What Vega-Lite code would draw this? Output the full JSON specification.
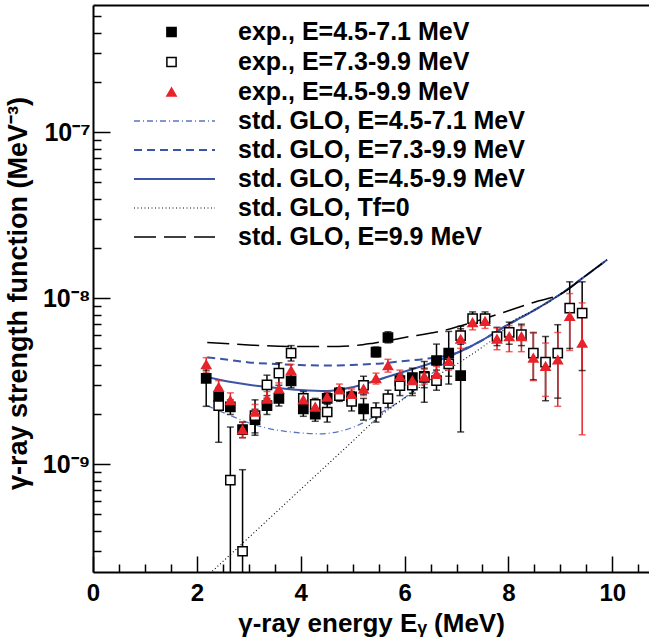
{
  "$schema": "https://vega.github.io/schema/vega-lite/v6.json",
  "width": 556,
  "height": 567,
  "autosize": {"type": "none"},
  "padding": {"left": 93, "top": 5, "right": 0, "bottom": 69},
  "background": "white",
  "config": {
    "view": {"stroke": null},
    "font": "Liberation Sans",
    "legend": {"labelFont": "Liberation Sans", "labelFontWeight": "bold", "labelFontSize": 25, "labelColor": "black", "padding": 0, "labelLimit": 0, "clipHeight": 24, "rowPadding": 5}
  },
  "datasets": {
    "pts": [
      {"s": "exp., E=4.5-7.1 MeV", "E": 2.18, "v": 3.3e-9, "lo": 2.24e-9, "hi": 3.7e-9},
      {"s": "exp., E=4.5-7.1 MeV", "E": 2.42, "v": 2.57e-9, "lo": 2.35e-9, "hi": 2.8e-9},
      {"s": "exp., E=4.5-7.1 MeV", "E": 2.645, "v": 2.22e-9, "lo": 2.0e-9, "hi": 2.45e-9},
      {"s": "exp., E=4.5-7.1 MeV", "E": 2.88, "v": 1.62e-9, "lo": 1.45e-9, "hi": 1.8e-9},
      {"s": "exp., E=4.5-7.1 MeV", "E": 3.12, "v": 1.86e-9, "lo": 1.55e-9, "hi": 2.15e-9},
      {"s": "exp., E=4.5-7.1 MeV", "E": 3.35, "v": 2.26e-9, "lo": 2.0e-9, "hi": 2.5e-9},
      {"s": "exp., E=4.5-7.1 MeV", "E": 3.58, "v": 2.5e-9, "lo": 2.25e-9, "hi": 2.75e-9},
      {"s": "exp., E=4.5-7.1 MeV", "E": 3.815, "v": 3.19e-9, "lo": 2.9e-9, "hi": 3.5e-9},
      {"s": "exp., E=4.5-7.1 MeV", "E": 4.05, "v": 2.16e-9, "lo": 1.95e-9, "hi": 2.4e-9},
      {"s": "exp., E=4.5-7.1 MeV", "E": 4.28, "v": 2.01e-9, "lo": 1.82e-9, "hi": 2.2e-9},
      {"s": "exp., E=4.5-7.1 MeV", "E": 4.51, "v": 2.5e-9, "lo": 2.3e-9, "hi": 2.7e-9},
      {"s": "exp., E=4.5-7.1 MeV", "E": 4.745, "v": 2.7e-9, "lo": 2.5e-9, "hi": 2.9e-9},
      {"s": "exp., E=4.5-7.1 MeV", "E": 4.98, "v": 2.55e-9, "lo": 2.35e-9, "hi": 2.75e-9},
      {"s": "exp., E=4.5-7.1 MeV", "E": 5.21, "v": 2.16e-9, "lo": 1.85e-9, "hi": 2.5e-9},
      {"s": "exp., E=4.5-7.1 MeV", "E": 5.45, "v": 4.75e-9, "lo": 4.45e-9, "hi": 5.1e-9},
      {"s": "exp., E=4.5-7.1 MeV", "E": 5.68, "v": 5.82e-9, "lo": 5.4e-9, "hi": 6.3e-9},
      {"s": "exp., E=4.5-7.1 MeV", "E": 5.91, "v": 3.2e-9, "lo": 2.9e-9, "hi": 3.5e-9},
      {"s": "exp., E=4.5-7.1 MeV", "E": 6.15, "v": 3.34e-9, "lo": 2.69e-9, "hi": 3.8e-9},
      {"s": "exp., E=4.5-7.1 MeV", "E": 6.38, "v": 3.4e-9, "lo": 2.37e-9, "hi": 4.17e-9},
      {"s": "exp., E=4.5-7.1 MeV", "E": 6.615, "v": 4.23e-9, "lo": 3.02e-9, "hi": 5.31e-9},
      {"s": "exp., E=4.5-7.1 MeV", "E": 6.85, "v": 4.69e-9, "lo": 3.05e-9, "hi": 6.33e-9},
      {"s": "exp., E=4.5-7.1 MeV", "E": 7.08, "v": 3.43e-9, "lo": 1.57e-9, "hi": 6.57e-9},
      {"s": "exp., E=7.3-9.9 MeV", "E": 2.42, "v": 2.26e-9, "lo": 1.36e-9, "hi": 2.9e-9},
      {"s": "exp., E=7.3-9.9 MeV", "E": 2.645, "v": 8.05e-10, "lo": 1.0e-10, "hi": 1.68e-9},
      {"s": "exp., E=7.3-9.9 MeV", "E": 2.88, "v": 3.0e-10, "lo": 1.0e-10, "hi": 9.3e-10},
      {"s": "exp., E=7.3-9.9 MeV", "E": 3.12, "v": 1.97e-9, "lo": 1.5e-9, "hi": 2.45e-9},
      {"s": "exp., E=7.3-9.9 MeV", "E": 3.35, "v": 3.02e-9, "lo": 2.6e-9, "hi": 3.45e-9},
      {"s": "exp., E=7.3-9.9 MeV", "E": 3.58, "v": 3.55e-9, "lo": 3.0e-9, "hi": 4.1e-9},
      {"s": "exp., E=7.3-9.9 MeV", "E": 3.815, "v": 4.69e-9, "lo": 4.2e-9, "hi": 5.2e-9},
      {"s": "exp., E=7.3-9.9 MeV", "E": 4.05, "v": 2.5e-9, "lo": 2.25e-9, "hi": 2.75e-9},
      {"s": "exp., E=7.3-9.9 MeV", "E": 4.28, "v": 2.3e-9, "lo": 2.1e-9, "hi": 2.5e-9},
      {"s": "exp., E=7.3-9.9 MeV", "E": 4.51, "v": 2.07e-9, "lo": 1.8e-9, "hi": 2.35e-9},
      {"s": "exp., E=7.3-9.9 MeV", "E": 4.745, "v": 2.6e-9, "lo": 2.4e-9, "hi": 2.8e-9},
      {"s": "exp., E=7.3-9.9 MeV", "E": 4.98, "v": 2.4e-9, "lo": 2.1e-9, "hi": 2.7e-9},
      {"s": "exp., E=7.3-9.9 MeV", "E": 5.21, "v": 3.0e-9, "lo": 2.65e-9, "hi": 3.4e-9},
      {"s": "exp., E=7.3-9.9 MeV", "E": 5.45, "v": 2.06e-9, "lo": 1.8e-9, "hi": 2.35e-9},
      {"s": "exp., E=7.3-9.9 MeV", "E": 5.68, "v": 2.49e-9, "lo": 2.2e-9, "hi": 2.8e-9},
      {"s": "exp., E=7.3-9.9 MeV", "E": 5.91, "v": 2.98e-9, "lo": 2.6e-9, "hi": 3.4e-9},
      {"s": "exp., E=7.3-9.9 MeV", "E": 6.15, "v": 3.0e-9, "lo": 2.6e-9, "hi": 3.4e-9},
      {"s": "exp., E=7.3-9.9 MeV", "E": 6.38, "v": 3.35e-9, "lo": 2.9e-9, "hi": 3.8e-9},
      {"s": "exp., E=7.3-9.9 MeV", "E": 6.615, "v": 3.2e-9, "lo": 2.8e-9, "hi": 3.7e-9},
      {"s": "exp., E=7.3-9.9 MeV", "E": 6.85, "v": 4.04e-9, "lo": 3.4e-9, "hi": 4.8e-9},
      {"s": "exp., E=7.3-9.9 MeV", "E": 7.08, "v": 5.98e-9, "lo": 5.3e-9, "hi": 6.8e-9},
      {"s": "exp., E=7.3-9.9 MeV", "E": 7.31, "v": 7.55e-9, "lo": 6.9e-9, "hi": 8.3e-9},
      {"s": "exp., E=7.3-9.9 MeV", "E": 7.55, "v": 7.55e-9, "lo": 6.9e-9, "hi": 8.3e-9},
      {"s": "exp., E=7.3-9.9 MeV", "E": 7.78, "v": 5.9e-9, "lo": 5.2e-9, "hi": 6.7e-9},
      {"s": "exp., E=7.3-9.9 MeV", "E": 8.015, "v": 6.24e-9, "lo": 5.3e-9, "hi": 7.2e-9},
      {"s": "exp., E=7.3-9.9 MeV", "E": 8.25, "v": 6.05e-9, "lo": 5.2e-9, "hi": 7.0e-9},
      {"s": "exp., E=7.3-9.9 MeV", "E": 8.48, "v": 4.69e-9, "lo": 3.24e-9, "hi": 6.24e-9},
      {"s": "exp., E=7.3-9.9 MeV", "E": 8.715, "v": 4.14e-9, "lo": 2.42e-9, "hi": 5.9e-9},
      {"s": "exp., E=7.3-9.9 MeV", "E": 8.95, "v": 4.69e-9, "lo": 2.51e-9, "hi": 6.95e-9},
      {"s": "exp., E=7.3-9.9 MeV", "E": 9.18, "v": 8.75e-9, "lo": 5.0e-9, "hi": 1.26e-8},
      {"s": "exp., E=7.3-9.9 MeV", "E": 9.42, "v": 8.17e-9, "lo": 3.68e-9, "hi": 1.26e-8},
      {"s": "exp., E=4.5-9.9 MeV", "E": 2.18, "v": 4.0e-9, "lo": 3.6e-9, "hi": 4.4e-9},
      {"s": "exp., E=4.5-9.9 MeV", "E": 2.42, "v": 2.92e-9, "lo": 2.65e-9, "hi": 3.2e-9},
      {"s": "exp., E=4.5-9.9 MeV", "E": 2.645, "v": 2.43e-9, "lo": 2.2e-9, "hi": 2.7e-9},
      {"s": "exp., E=4.5-9.9 MeV", "E": 2.88, "v": 1.62e-9, "lo": 1.45e-9, "hi": 1.8e-9},
      {"s": "exp., E=4.5-9.9 MeV", "E": 3.12, "v": 2.07e-9, "lo": 1.85e-9, "hi": 2.3e-9},
      {"s": "exp., E=4.5-9.9 MeV", "E": 3.35, "v": 2.48e-9, "lo": 2.25e-9, "hi": 2.75e-9},
      {"s": "exp., E=4.5-9.9 MeV", "E": 3.58, "v": 2.85e-9, "lo": 2.6e-9, "hi": 3.1e-9},
      {"s": "exp., E=4.5-9.9 MeV", "E": 3.815, "v": 3.68e-9, "lo": 3.35e-9, "hi": 4.0e-9},
      {"s": "exp., E=4.5-9.9 MeV", "E": 4.05, "v": 2.45e-9, "lo": 2.25e-9, "hi": 2.65e-9},
      {"s": "exp., E=4.5-9.9 MeV", "E": 4.28, "v": 2.22e-9, "lo": 2.05e-9, "hi": 2.4e-9},
      {"s": "exp., E=4.5-9.9 MeV", "E": 4.51, "v": 2.55e-9, "lo": 2.35e-9, "hi": 2.75e-9},
      {"s": "exp., E=4.5-9.9 MeV", "E": 4.745, "v": 2.82e-9, "lo": 2.6e-9, "hi": 3.05e-9},
      {"s": "exp., E=4.5-9.9 MeV", "E": 4.98, "v": 2.65e-9, "lo": 2.45e-9, "hi": 2.85e-9},
      {"s": "exp., E=4.5-9.9 MeV", "E": 5.21, "v": 2.85e-9, "lo": 2.6e-9, "hi": 3.1e-9},
      {"s": "exp., E=4.5-9.9 MeV", "E": 5.45, "v": 3.3e-9, "lo": 3.05e-9, "hi": 3.55e-9},
      {"s": "exp., E=4.5-9.9 MeV", "E": 5.68, "v": 3.94e-9, "lo": 3.6e-9, "hi": 4.3e-9},
      {"s": "exp., E=4.5-9.9 MeV", "E": 5.91, "v": 3.39e-9, "lo": 3.1e-9, "hi": 3.7e-9},
      {"s": "exp., E=4.5-9.9 MeV", "E": 6.15, "v": 3.2e-9, "lo": 2.9e-9, "hi": 3.5e-9},
      {"s": "exp., E=4.5-9.9 MeV", "E": 6.38, "v": 3.39e-9, "lo": 3.05e-9, "hi": 3.75e-9},
      {"s": "exp., E=4.5-9.9 MeV", "E": 6.615, "v": 3.5e-9, "lo": 3.1e-9, "hi": 3.9e-9},
      {"s": "exp., E=4.5-9.9 MeV", "E": 6.85, "v": 4.18e-9, "lo": 3.7e-9, "hi": 4.7e-9},
      {"s": "exp., E=4.5-9.9 MeV", "E": 7.08, "v": 5.69e-9, "lo": 5.0e-9, "hi": 6.4e-9},
      {"s": "exp., E=4.5-9.9 MeV", "E": 7.31, "v": 7.17e-9, "lo": 6.47e-9, "hi": 7.97e-9},
      {"s": "exp., E=4.5-9.9 MeV", "E": 7.55, "v": 7.3e-9, "lo": 6.6e-9, "hi": 8.0e-9},
      {"s": "exp., E=4.5-9.9 MeV", "E": 7.78, "v": 5.7e-9, "lo": 4.91e-9, "hi": 6.64e-9},
      {"s": "exp., E=4.5-9.9 MeV", "E": 8.015, "v": 5.9e-9, "lo": 4.78e-9, "hi": 6.86e-9},
      {"s": "exp., E=4.5-9.9 MeV", "E": 8.25, "v": 5.9e-9, "lo": 4.78e-9, "hi": 6.86e-9},
      {"s": "exp., E=4.5-9.9 MeV", "E": 8.48, "v": 4.38e-9, "lo": 3.2e-9, "hi": 6.19e-9},
      {"s": "exp., E=4.5-9.9 MeV", "E": 8.715, "v": 3.9e-9, "lo": 2.57e-9, "hi": 5.39e-9},
      {"s": "exp., E=4.5-9.9 MeV", "E": 8.95, "v": 4.27e-9, "lo": 2.24e-9, "hi": 6.24e-9},
      {"s": "exp., E=4.5-9.9 MeV", "E": 9.18, "v": 7.8e-9, "lo": 4.86e-9, "hi": 1.07e-8},
      {"s": "exp., E=4.5-9.9 MeV", "E": 9.42, "v": 5.39e-9, "lo": 1.51e-9, "hi": 9.4e-9}
    ],
    "c1": [
      {"m": "std. GLO, E=4.5-7.1 MeV", "E": 2.2, "v": 2.26e-9},
      {"m": "std. GLO, E=4.5-7.1 MeV", "E": 2.6, "v": 2.0e-9},
      {"m": "std. GLO, E=4.5-7.1 MeV", "E": 3.0, "v": 1.78e-9},
      {"m": "std. GLO, E=4.5-7.1 MeV", "E": 3.5, "v": 1.62e-9},
      {"m": "std. GLO, E=4.5-7.1 MeV", "E": 4.0, "v": 1.55e-9},
      {"m": "std. GLO, E=4.5-7.1 MeV", "E": 4.4, "v": 1.53e-9},
      {"m": "std. GLO, E=4.5-7.1 MeV", "E": 4.8, "v": 1.6e-9},
      {"m": "std. GLO, E=4.5-7.1 MeV", "E": 5.1, "v": 1.72e-9},
      {"m": "std. GLO, E=4.5-7.1 MeV", "E": 5.4, "v": 1.93e-9},
      {"m": "std. GLO, E=4.5-7.1 MeV", "E": 5.8, "v": 2.29e-9},
      {"m": "std. GLO, E=4.5-7.1 MeV", "E": 6.2, "v": 2.82e-9},
      {"m": "std. GLO, E=4.5-7.1 MeV", "E": 6.5, "v": 3.47e-9},
      {"m": "std. GLO, E=4.5-7.1 MeV", "E": 6.8, "v": 4.17e-9},
      {"m": "std. GLO, E=4.5-7.1 MeV", "E": 7.0, "v": 4.68e-9},
      {"m": "std. GLO, E=4.5-7.1 MeV", "E": 7.5, "v": 5.62e-9},
      {"m": "std. GLO, E=4.5-7.1 MeV", "E": 8.0, "v": 6.97e-9},
      {"m": "std. GLO, E=4.5-7.1 MeV", "E": 8.5, "v": 8.5e-9},
      {"m": "std. GLO, E=4.5-7.1 MeV", "E": 9.0, "v": 1.06e-8},
      {"m": "std. GLO, E=4.5-7.1 MeV", "E": 9.5, "v": 1.38e-8},
      {"m": "std. GLO, E=4.5-7.1 MeV", "E": 9.9, "v": 1.71e-8}
    ],
    "c2": [
      {"m": "std. GLO, E=7.3-9.9 MeV", "E": 2.2, "v": 4.42e-9},
      {"m": "std. GLO, E=7.3-9.9 MeV", "E": 2.6, "v": 4.27e-9},
      {"m": "std. GLO, E=7.3-9.9 MeV", "E": 3.0, "v": 4.12e-9},
      {"m": "std. GLO, E=7.3-9.9 MeV", "E": 3.5, "v": 4.03e-9},
      {"m": "std. GLO, E=7.3-9.9 MeV", "E": 4.0, "v": 3.97e-9},
      {"m": "std. GLO, E=7.3-9.9 MeV", "E": 4.5, "v": 3.94e-9},
      {"m": "std. GLO, E=7.3-9.9 MeV", "E": 5.0, "v": 3.98e-9},
      {"m": "std. GLO, E=7.3-9.9 MeV", "E": 5.5, "v": 4.05e-9},
      {"m": "std. GLO, E=7.3-9.9 MeV", "E": 6.0, "v": 4.2e-9},
      {"m": "std. GLO, E=7.3-9.9 MeV", "E": 6.5, "v": 4.37e-9},
      {"m": "std. GLO, E=7.3-9.9 MeV", "E": 7.0, "v": 4.7e-9},
      {"m": "std. GLO, E=7.3-9.9 MeV", "E": 7.5, "v": 5.62e-9},
      {"m": "std. GLO, E=7.3-9.9 MeV", "E": 8.0, "v": 6.97e-9},
      {"m": "std. GLO, E=7.3-9.9 MeV", "E": 8.5, "v": 8.5e-9},
      {"m": "std. GLO, E=7.3-9.9 MeV", "E": 9.0, "v": 1.06e-8},
      {"m": "std. GLO, E=7.3-9.9 MeV", "E": 9.5, "v": 1.38e-8},
      {"m": "std. GLO, E=7.3-9.9 MeV", "E": 9.9, "v": 1.71e-8}
    ],
    "c3": [
      {"m": "std. GLO, E=4.5-9.9 MeV", "E": 2.2, "v": 3.36e-9},
      {"m": "std. GLO, E=4.5-9.9 MeV", "E": 2.6, "v": 3.16e-9},
      {"m": "std. GLO, E=4.5-9.9 MeV", "E": 3.0, "v": 3.02e-9},
      {"m": "std. GLO, E=4.5-9.9 MeV", "E": 3.5, "v": 2.9e-9},
      {"m": "std. GLO, E=4.5-9.9 MeV", "E": 4.0, "v": 2.81e-9},
      {"m": "std. GLO, E=4.5-9.9 MeV", "E": 4.5, "v": 2.77e-9},
      {"m": "std. GLO, E=4.5-9.9 MeV", "E": 5.0, "v": 2.92e-9},
      {"m": "std. GLO, E=4.5-9.9 MeV", "E": 5.5, "v": 3.24e-9},
      {"m": "std. GLO, E=4.5-9.9 MeV", "E": 6.0, "v": 3.63e-9},
      {"m": "std. GLO, E=4.5-9.9 MeV", "E": 6.5, "v": 4.07e-9},
      {"m": "std. GLO, E=4.5-9.9 MeV", "E": 7.0, "v": 4.68e-9},
      {"m": "std. GLO, E=4.5-9.9 MeV", "E": 7.5, "v": 5.62e-9},
      {"m": "std. GLO, E=4.5-9.9 MeV", "E": 8.0, "v": 6.97e-9},
      {"m": "std. GLO, E=4.5-9.9 MeV", "E": 8.5, "v": 8.5e-9},
      {"m": "std. GLO, E=4.5-9.9 MeV", "E": 9.0, "v": 1.06e-8},
      {"m": "std. GLO, E=4.5-9.9 MeV", "E": 9.5, "v": 1.38e-8},
      {"m": "std. GLO, E=4.5-9.9 MeV", "E": 9.9, "v": 1.71e-8}
    ],
    "c4": [
      {"m": "std. GLO, Tf=0", "E": 2.2, "v": 2.13e-10},
      {"m": "std. GLO, Tf=0", "E": 3.0, "v": 3.63e-10},
      {"m": "std. GLO, Tf=0", "E": 3.5, "v": 5.07e-10},
      {"m": "std. GLO, Tf=0", "E": 4.0, "v": 7.08e-10},
      {"m": "std. GLO, Tf=0", "E": 4.5, "v": 9.89e-10},
      {"m": "std. GLO, Tf=0", "E": 5.0, "v": 1.38e-9},
      {"m": "std. GLO, Tf=0", "E": 5.44, "v": 1.86e-9},
      {"m": "std. GLO, Tf=0", "E": 6.0, "v": 2.51e-9},
      {"m": "std. GLO, Tf=0", "E": 6.5, "v": 3.24e-9},
      {"m": "std. GLO, Tf=0", "E": 6.82, "v": 3.72e-9},
      {"m": "std. GLO, Tf=0", "E": 7.2, "v": 4.4e-9},
      {"m": "std. GLO, Tf=0", "E": 7.5, "v": 5.1e-9},
      {"m": "std. GLO, Tf=0", "E": 7.8, "v": 6.0e-9},
      {"m": "std. GLO, Tf=0", "E": 8.0, "v": 6.97e-9},
      {"m": "std. GLO, Tf=0", "E": 8.5, "v": 8.5e-9},
      {"m": "std. GLO, Tf=0", "E": 9.0, "v": 1.06e-8},
      {"m": "std. GLO, Tf=0", "E": 9.5, "v": 1.38e-8},
      {"m": "std. GLO, Tf=0", "E": 9.9, "v": 1.71e-8}
    ],
    "c5": [
      {"m": "std. GLO, E=9.9 MeV", "E": 2.2, "v": 5.43e-9},
      {"m": "std. GLO, E=9.9 MeV", "E": 3.0, "v": 5.25e-9},
      {"m": "std. GLO, E=9.9 MeV", "E": 3.8, "v": 5.14e-9},
      {"m": "std. GLO, E=9.9 MeV", "E": 4.5, "v": 5.13e-9},
      {"m": "std. GLO, E=9.9 MeV", "E": 5.0, "v": 5.19e-9},
      {"m": "std. GLO, E=9.9 MeV", "E": 5.4, "v": 5.38e-9},
      {"m": "std. GLO, E=9.9 MeV", "E": 6.0, "v": 5.82e-9},
      {"m": "std. GLO, E=9.9 MeV", "E": 6.8, "v": 6.47e-9},
      {"m": "std. GLO, E=9.9 MeV", "E": 7.5, "v": 7.5e-9},
      {"m": "std. GLO, E=9.9 MeV", "E": 8.0, "v": 8.43e-9},
      {"m": "std. GLO, E=9.9 MeV", "E": 8.5, "v": 9.5e-9},
      {"m": "std. GLO, E=9.9 MeV", "E": 9.0, "v": 1.06e-8},
      {"m": "std. GLO, E=9.9 MeV", "E": 9.5, "v": 1.38e-8},
      {"m": "std. GLO, E=9.9 MeV", "E": 9.9, "v": 1.71e-8}
    ]
  },
  "resolve": {"scale": {"color": "independent"}, "axis": {"x": "independent"}},
  "layer": [
    {
      "data": {"name": "c1"},
      "mark": {"type": "line", "interpolate": "monotone", "clip": true, "strokeDash": [6, 3, 1, 3], "strokeWidth": 1.3},
      "encoding": {
        "x": {"field": "E", "type": "quantitative", "scale": {"domain": [0, 10.707], "nice": false, "zero": false},
              "axis": {"orient": "top", "ticks": false, "labels": false, "grid": false, "domainColor": "black", "domainWidth": 2, "title": null}},
        "y": {"field": "v", "type": "quantitative", "scale": {"type": "log", "domain": [2.25e-10, 5.86e-7], "nice": false}},
        "color": {"field": "m", "type": "nominal", "scale": {"range": ["#5a74c0"]},
          "legend": {"orient": "none", "legendX": 40, "legendY": 104, "title": null, "labelOffset": 22, "symbolType": "stroke", "symbolSize": 6561, "symbolStrokeWidth": 1.3, "symbolDash": [6, 3, 1, 3]}}
      }
    },
    {
      "data": {"name": "c2"},
      "mark": {"type": "line", "interpolate": "monotone", "clip": true, "strokeDash": [8, 5], "strokeWidth": 2},
      "encoding": {
        "x": {"field": "E", "type": "quantitative", "scale": {"domain": [0, 10.707], "nice": false, "zero": false}, "axis": null},
        "y": {"field": "v", "type": "quantitative", "scale": {"type": "log", "domain": [2.25e-10, 5.86e-7], "nice": false}},
        "color": {"field": "m", "type": "nominal", "scale": {"range": ["#3a55a6"]},
          "legend": {"orient": "none", "legendX": 40, "legendY": 133, "title": null, "labelOffset": 22, "symbolType": "stroke", "symbolSize": 6561, "symbolStrokeWidth": 2, "symbolDash": [8, 5]}}
      }
    },
    {
      "data": {"name": "c3"},
      "mark": {"type": "line", "interpolate": "monotone", "clip": true, "strokeWidth": 2},
      "encoding": {
        "x": {"field": "E", "type": "quantitative", "scale": {"domain": [0, 10.707], "nice": false, "zero": false}, "axis": null},
        "y": {"field": "v", "type": "quantitative", "scale": {"type": "log", "domain": [2.25e-10, 5.86e-7], "nice": false}},
        "color": {"field": "m", "type": "nominal", "scale": {"range": ["#3a55a6"]},
          "legend": {"orient": "none", "legendX": 40, "legendY": 162, "title": null, "labelOffset": 22, "symbolType": "stroke", "symbolSize": 6561, "symbolStrokeWidth": 2}}
      }
    },
    {
      "data": {"name": "c4"},
      "mark": {"type": "line", "interpolate": "monotone", "clip": true, "strokeDash": [1, 2.5], "strokeWidth": 1.1},
      "encoding": {
        "x": {"field": "E", "type": "quantitative", "scale": {"domain": [0, 10.707], "nice": false, "zero": false}, "axis": null},
        "y": {"field": "v", "type": "quantitative", "scale": {"type": "log", "domain": [2.25e-10, 5.86e-7], "nice": false}},
        "color": {"field": "m", "type": "nominal", "scale": {"range": ["#000000"]},
          "legend": {"orient": "none", "legendX": 40, "legendY": 191, "title": null, "labelOffset": 22, "symbolType": "stroke", "symbolSize": 6561, "symbolStrokeWidth": 1.1, "symbolDash": [1, 2.5]}}
      }
    },
    {
      "data": {"name": "c5"},
      "mark": {"type": "line", "interpolate": "monotone", "clip": true, "strokeDash": [22, 8], "strokeWidth": 1.5},
      "encoding": {
        "x": {"field": "E", "type": "quantitative", "scale": {"domain": [0, 10.707], "nice": false, "zero": false}, "axis": null},
        "y": {"field": "v", "type": "quantitative", "scale": {"type": "log", "domain": [2.25e-10, 5.86e-7], "nice": false}},
        "color": {"field": "m", "type": "nominal", "scale": {"range": ["#000000"]},
          "legend": {"orient": "none", "legendX": 40, "legendY": 220, "title": null, "labelOffset": 22, "symbolType": "stroke", "symbolSize": 6561, "symbolStrokeWidth": 1.5, "symbolDash": [22, 8]}}
      }
    },
    {
      "data": {"name": "pts"},
      "mark": {"type": "rule", "strokeWidth": 1.5, "clip": true},
      "encoding": {
        "x": {"field": "E", "type": "quantitative", "scale": {"domain": [0, 10.707], "nice": false, "zero": false}, "axis": null},
        "y": {"field": "lo", "type": "quantitative", "scale": {"type": "log", "domain": [2.25e-10, 5.86e-7], "nice": false}},
        "y2": {"field": "hi"},
        "color": {"field": "s", "type": "nominal", "scale": {"domain": ["exp., E=4.5-7.1 MeV", "exp., E=7.3-9.9 MeV", "exp., E=4.5-9.9 MeV"], "range": ["#000000", "#000000", "#e8232a"]}, "legend": null}
      }
    },
    {
      "data": {"name": "pts"},
      "mark": {"type": "tick", "orient": "horizontal", "size": 7, "thickness": 1.5, "clip": true},
      "encoding": {
        "x": {"field": "E", "type": "quantitative", "scale": {"domain": [0, 10.707], "nice": false, "zero": false}, "axis": null},
        "y": {"field": "lo", "type": "quantitative", "scale": {"type": "log", "domain": [2.25e-10, 5.86e-7], "nice": false}},
        "color": {"field": "s", "type": "nominal", "scale": {"domain": ["exp., E=4.5-7.1 MeV", "exp., E=7.3-9.9 MeV", "exp., E=4.5-9.9 MeV"], "range": ["#000000", "#000000", "#e8232a"]}, "legend": null}
      }
    },
    {
      "data": {"name": "pts"},
      "mark": {"type": "tick", "orient": "horizontal", "size": 7, "thickness": 1.5, "clip": true},
      "encoding": {
        "x": {"field": "E", "type": "quantitative", "scale": {"domain": [0, 10.707], "nice": false, "zero": false}, "axis": null},
        "y": {"field": "hi", "type": "quantitative", "scale": {"type": "log", "domain": [2.25e-10, 5.86e-7], "nice": false}},
        "color": {"field": "s", "type": "nominal", "scale": {"domain": ["exp., E=4.5-7.1 MeV", "exp., E=7.3-9.9 MeV", "exp., E=4.5-9.9 MeV"], "range": ["#000000", "#000000", "#e8232a"]}, "legend": null}
      }
    },
    {
      "data": {"name": "pts"},
      "mark": {"type": "point", "filled": true, "opacity": 1, "strokeWidth": 1.5, "clip": true},
      "encoding": {
        "x": {"field": "E", "type": "quantitative", "scale": {"domain": [0, 10.707], "nice": false, "zero": false},
          "axis": {"orient": "bottom", "values": [0, 0.5, 1, 1.5, 2, 2.5, 3, 3.5, 4, 4.5, 5, 5.5, 6, 6.5, 7, 7.5, 8, 8.5, 9, 9.5, 10, 10.5],
            "labelExpr": "datum.value % 2 == 0 ? format(datum.value, 'd') : ''",
            "tickSize": {"condition": {"test": "datum.value % 2 == 0", "value": -16}, "value": -8},
            "tickWidth": 1.5, "tickColor": "black", "domainColor": "black", "domainWidth": 2, "grid": false,
            "labelFont": "Liberation Sans", "labelFontWeight": "bold", "labelFontSize": 24, "labelColor": "black", "labelPadding": 25, "labelFlush": false, "labelOverlap": false, "labelBaseline": "top",
            "title": "γ-ray energy Eᵧ (MeV)", "titleFont": "Liberation Sans", "titleFontWeight": "bold", "titleFontSize": 26, "titleColor": "black", "titleBaseline": "alphabetic", "titleX": 278, "titleY": 59}},
        "y": {"field": "v", "type": "quantitative", "scale": {"type": "log", "domain": [2.25e-10, 5.86e-7], "nice": false},
          "axis": {"orient": "left", "values": [3e-10, 4e-10, 5e-10, 6e-10, 7e-10, 8e-10, 9e-10, 1e-9, 2e-9, 3e-9, 4e-9, 5e-9, 6e-9, 7e-9, 8e-9, 9e-9, 1e-8, 2e-8, 3e-8, 4e-8, 5e-8, 6e-8, 7e-8, 8e-8, 9e-8, 1e-7, 2e-7, 3e-7, 4e-7, 5e-7],
            "labelExpr": "abs(log(datum.value)/LN10 + 9) < 0.01 ? '10⁻⁹' : abs(log(datum.value)/LN10 + 8) < 0.01 ? '10⁻⁸' : abs(log(datum.value)/LN10 + 7) < 0.01 ? '10⁻⁷' : ''",
            "tickSize": {"condition": {"test": "abs(log(datum.value)/LN10 - round(log(datum.value)/LN10)) < 0.01", "value": -17}, "value": -8},
            "tickWidth": 1.5, "tickColor": "black", "domainColor": "black", "domainWidth": 2, "grid": false,
            "labelFont": "Liberation Sans", "labelFontWeight": "bold", "labelFontSize": 25, "labelColor": "black", "labelPadding": 20, "labelFlush": false, "labelOverlap": false, "labelBaseline": "middle",
            "title": "γ-ray strength function (MeV⁻³)", "titleFont": "Liberation Sans", "titleFontWeight": "bold", "titleFontSize": 27, "titleColor": "black", "titleBaseline": "alphabetic", "titleX": -67, "titleY": 288}},
        "shape": {"field": "s", "type": "nominal", "scale": {"domain": ["exp., E=4.5-7.1 MeV", "exp., E=7.3-9.9 MeV", "exp., E=4.5-9.9 MeV"], "range": ["square", "square", "triangle-up"]},
          "legend": {"orient": "none", "legendX": 66, "legendY": 15, "title": null, "labelOffset": 54}},
        "fill": {"field": "s", "type": "nominal", "scale": {"domain": ["exp., E=4.5-7.1 MeV", "exp., E=7.3-9.9 MeV", "exp., E=4.5-9.9 MeV"], "range": ["#000000", "#ffffff", "#e8232a"]},
          "legend": {"orient": "none", "legendX": 66, "legendY": 15, "title": null, "labelOffset": 54}},
        "stroke": {"field": "s", "type": "nominal", "scale": {"domain": ["exp., E=4.5-7.1 MeV", "exp., E=7.3-9.9 MeV", "exp., E=4.5-9.9 MeV"], "range": ["#000000", "#000000", "#e8232a"]},
          "legend": {"orient": "none", "legendX": 66, "legendY": 15, "title": null, "labelOffset": 54}},
        "size": {"field": "s", "type": "nominal", "scale": {"domain": ["exp., E=4.5-7.1 MeV", "exp., E=7.3-9.9 MeV", "exp., E=4.5-9.9 MeV"], "range": [85, 85, 150]},
          "legend": {"orient": "none", "legendX": 66, "legendY": 15, "title": null, "labelOffset": 54}}
      }
    }
  ]
}
